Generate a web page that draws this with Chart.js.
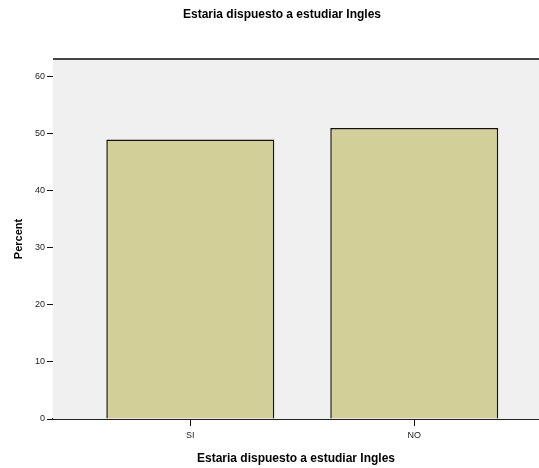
<!DOCTYPE html>
<html>
<head>
<meta charset="utf-8">
<script src="https://cdn.jsdelivr.net/npm/chart.js@4/dist/chart.umd.min.js"></script>
<style>
  html, body { margin: 0; padding: 0; background: #fff; }
  #wrap { width: 539px; height: 468px; }
</style>
</head>
<body>
<div id="wrap"><canvas id="chart" width="539" height="468"></canvas></div>
<script>
  // Data
  const CATEGORIES = ['SI', 'NO'];
  const PERCENT = [49.0, 51.0];
  const Y_TICKS = [0, 10, 20, 30, 40, 50, 60];

  const TITLE = 'Estaria dispuesto a estudiar Ingles';
  const FONT = "'Liberation Sans', Arial, sans-serif";

  // Plot background, top frame, category tick marks, main title
  const frame = {
    id: 'frame',
    beforeDatasetsDraw(chart) {
      const { ctx, chartArea: a } = chart;
      ctx.save();
      ctx.fillStyle = '#F0F0F0';
      ctx.fillRect(a.left, a.top, a.right - a.left, a.bottom - a.top);
      ctx.restore();
    },
    afterDraw(chart) {
      const { ctx, chartArea: a } = chart;
      const xs = chart.scales.x;
      ctx.save();
      ctx.strokeStyle = '#444';
      ctx.lineWidth = 2;
      ctx.beginPath();
      ctx.moveTo(a.left, a.top);
      ctx.lineTo(a.right, a.top);
      ctx.stroke();

      // tick marks under each category
      ctx.fillStyle = '#111';
      CATEGORIES.forEach((c, i) => {
        const px = Math.round(xs.getPixelForValue(i));
        ctx.fillRect(px, a.bottom, 1, 7);
      });

      ctx.fillStyle = '#000';
      ctx.font = 'bold 12px ' + FONT;
      ctx.textAlign = 'center';
      ctx.textBaseline = 'middle';
      ctx.fillText(TITLE, 282, 15);
      ctx.restore();
    },
  };

  new Chart(document.getElementById('chart'), {
    type: 'bar',
    data: {
      datasets: [{
        data: PERCENT.map((v, i) => ({ x: i, y: v })),
        backgroundColor: '#D3CF98',
        borderColor: '#111',
        borderWidth: 1.5,
        categoryPercentage: 1,
        barPercentage: 0.75,
      }],
    },
    plugins: [frame],
    options: {
      responsive: false,
      animation: false,
      layout: { padding: { top: 59, left: 0, right: 0, bottom: 0 } },
      plugins: { legend: { display: false }, tooltip: { enabled: false }, title: { display: false } },
      scales: {
        x: {
          type: 'linear',
          min: -0.613,
          max: 1.557,
          offset: false,
          afterFit: (s) => { s.height = 49; },
          afterBuildTicks: (s) => { s.ticks = CATEGORIES.map((c, i) => ({ value: i })); },
          ticks: {
            callback: (v) => CATEGORIES[v] ?? '',
            color: '#222',
            font: { family: FONT, size: 9 },
            padding: 5,
            maxRotation: 0,
          },
          grid: { display: false, drawOnChartArea: false, tickLength: 6 },
          border: { display: true, color: '#222', width: 2 },
          title: {
            display: true,
            text: TITLE,
            color: '#000',
            font: { family: FONT, size: 12, weight: 'bold' },
            padding: { top: 0, bottom: 2 },
          },
        },
        y: {
          min: 0,
          max: 63.1,
          afterFit: (s) => { s.width = 53; },
          afterBuildTicks: (s) => { s.ticks = Y_TICKS.map((v) => ({ value: v })); },
          ticks: {
            color: '#222',
            font: { family: FONT, size: 9 },
            padding: 2,
          },
          grid: { drawOnChartArea: false, drawTicks: true, tickLength: 6, tickColor: '#111' },
          border: { display: true, color: '#111', width: 1 },
          title: {
            display: true,
            text: 'Percent',
            color: '#000',
            font: { family: FONT, size: 11, weight: 'bold' },
            padding: { top: 12, bottom: 0 },
          },
        },
      },
    },
  });
</script>
</body>
</html>
